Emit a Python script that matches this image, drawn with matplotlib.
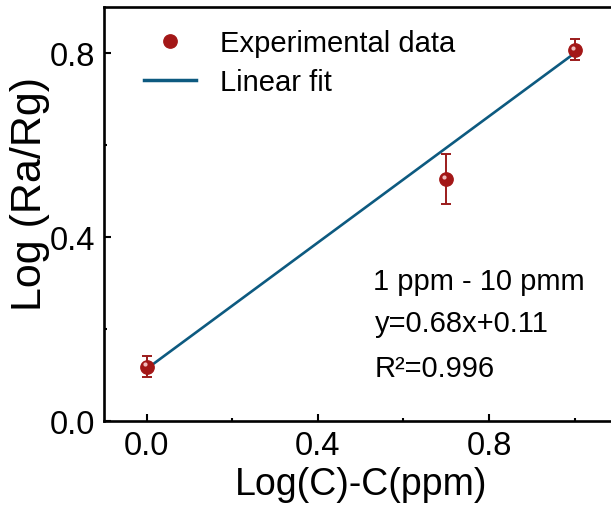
import matplotlib
matplotlib.use("Agg")
import matplotlib.pyplot as plt
import matplotlib.transforms as mtransforms
from matplotlib.lines import Line2D
from matplotlib.ticker import MultipleLocator

# Messwerte
log_c = [0.0, 0.699, 1.0]
log_ratio = [0.118, 0.526, 0.807]
log_ratio_err = [0.023, 0.055, 0.023]

# Ausgleichsgerade (Endpunkte aus dem Bild)
fit_x = [0.0, 1.0]
fit_y = [0.113, 0.800]

annot_lines = ["1 ppm - 10 pmm", "y=0.68x+0.11", "R\u00b2=0.996"]

plt.rcParams['font.family'] = ['Liberation Sans', 'DejaVu Sans']

red = '#a31717'
blue = '#0d5a80'

fig = plt.figure(figsize=(6.11, 5.10), dpi=100)
ax = fig.add_axes([0.170, 0.173, 0.8406, 0.811])

ax.plot(fit_x, fit_y, color=blue, lw=1.9, zorder=2)
ax.errorbar(log_c, log_ratio, yerr=log_ratio_err, fmt='o', color=red, ms=9.6,
            ecolor='#9b1b1b', elinewidth=1.4, capsize=3.6, capthick=1.4, zorder=3)
# kleiner Glanzpunkt, damit die Punkte wie Kugeln aussehen
hl = mtransforms.offset_copy(ax.transData, fig=fig, x=-1.5, y=2.2, units='dots')
ax.plot(log_c, log_ratio, 'o', color='#f0bcbc', ms=3.0, mec='none', transform=hl, zorder=4)

ax.set_xlim(-0.1, 1.1)
ax.set_ylim(0.0, 0.9)
ax.xaxis.set_major_locator(MultipleLocator(0.4))
ax.xaxis.set_minor_locator(MultipleLocator(0.2))
ax.yaxis.set_major_locator(MultipleLocator(0.4))
ax.yaxis.set_minor_locator(MultipleLocator(0.2))
ax.tick_params(which='both', direction='in', width=1.5, labelsize=23.5, pad=6)
ax.tick_params(axis='x', pad=7)
ax.tick_params(which='major', length=5)
ax.tick_params(which='minor', length=2.5)
ax.xaxis.set_major_formatter(plt.FormatStrFormatter('%.1f'))
ax.yaxis.set_major_formatter(plt.FormatStrFormatter('%.1f'))

for s in ['left', 'bottom', 'top']:
    ax.spines[s].set_linewidth(1.9)
ax.spines['right'].set_visible(False)

ax.set_xlabel('Log(C)-C(ppm)', fontsize=27, labelpad=3)
ax.set_ylabel('Log (Ra/Rg)', fontsize=31)
ax.yaxis.set_label_coords(-0.104, 0.55)

handles = [Line2D([], [], marker='o', ls='none', color=red, ms=9.6),
           Line2D([], [], color=blue, lw=2.5)]
ax.legend(handles, ['Experimental data', 'Linear fit'], loc='upper left',
          bbox_to_anchor=(0.027, 1.011), frameon=False, fontsize=21,
          handlelength=1.8, handletextpad=0.8, labelspacing=0.38)

xs = [0.524, 0.528, 0.528]
ys = [0.337, 0.236, 0.128]
for txt, xx, yy in zip(annot_lines, xs, ys):
    ax.text(xx, yy, txt, transform=ax.transAxes, fontsize=21, va='center')

fig.savefig('out.png', dpi=100)
